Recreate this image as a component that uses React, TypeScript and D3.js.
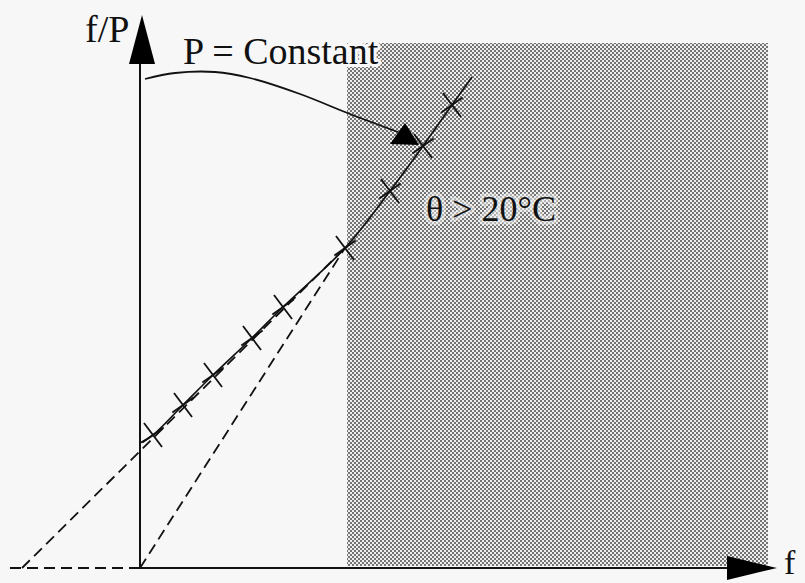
import React from "react";
import * as d3 from "d3";

// Measured points along the f/P versus f curve (arbitrary units)
const curveF = [0, 1.3, 4.3, 7.3, 11.2, 14.3, 20.5, 25.0, 28.3, 31.2, 33.2];
const curveFP = [12.5, 13.3, 16.3, 19.3, 23.0, 26.1, 32.0, 37.7, 42.2, 46.3, 49.1];
// Indices of the points that carry a cross marker
const markerIdx = [1, 2, 3, 4, 5, 6, 7, 8, 9];

// Construction lines (dashed)
const tangentF = [-11.8, 20.5];
const tangentFP = [0, 32.0];
const originF = [0, 20.5];
const originFP = [0, 32.0];
const baseF = [-13, 0];
const baseFP = [0, 0];

// Shaded region (θ > 20°C) in data units
const shadeF = [20.7, 62.8];
const shadeFP = [0.2, 52.5];

// Annotation arrow ("P = Constant") in data units
const annoPts: [number, number][] = [
  [0.5, 48.9],
  [3.5, 49.5],
  [7.5, 49.6],
  [11.0, 49.0],
  [16.0, 47.4],
  [21.0, 45.4],
  [25.8, 43.6],
];

const labels = {
  yAxis: "f/P",
  xAxis: "f",
  constant: "P = Constant",
  theta: "θ > 20°C",
};

const W = 805;
const H = 583;
const FONT = "'Liberation Serif', 'Times New Roman', serif";

export default function App() {
  const x = d3.scaleLinear().domain([0, 63]).range([140, 770]);
  const y = d3.scaleLinear().domain([0, 55]).range([568, 18]);

  const pts: [number, number][] = curveF.map((f, i) => [x(f), y(curveFP[i])]);
  const curvePath = d3.line().curve(d3.curveCatmullRom.alpha(0.5))(pts) || "";

  const seg = (fs: number[], ps: number[]) =>
    d3.line()(fs.map((f, i) => [x(f), y(ps[i])] as [number, number])) || "";

  const annoPath =
    d3.line().curve(d3.curveCatmullRom.alpha(0.5))(
      annoPts.map(([f, p]) => [x(f), y(p)] as [number, number])
    ) || "";

  // arrowhead at the end of the annotation
  const tip: [number, number] = [x(27.9), y(42.3)];
  const headPath = `M${tip[0] - 29},${tip[1] - 1} L${tip[0]},${tip[1]} L${tip[0] - 14},${tip[1] - 22} Z`;

  const ax0 = x(0);
  const ay0 = y(0);
  const yTop = y(50.4);
  const xEnd = x(63.7);

  const armA = (53 * Math.PI) / 180;
  const armB = (-35 * Math.PI) / 180;
  const halfA = 15;
  const halfB = 13;

  return (
    <svg
      width={W}
      height={H}
      viewBox={`0 0 ${W} ${H}`}
      style={{ position: "absolute", left: 0, top: 0, background: "#f7f7f7" }}
    >
      <defs>
        <pattern id="stipple" width={4} height={4} patternUnits="userSpaceOnUse">
          <rect width={4} height={4} fill="#eeeeee" />
          <circle cx={1} cy={1} r={0.95} fill="#404040" />
          <circle cx={3} cy={3} r={0.95} fill="#404040" />
        </pattern>
      </defs>

      {/* shaded region */}
      <rect
        x={x(shadeF[0])}
        y={y(shadeFP[1])}
        width={x(shadeF[1]) - x(shadeF[0])}
        height={y(shadeFP[0]) - y(shadeFP[1])}
        fill="url(#stipple)"
      />

      {/* dashed construction lines */}
      <g fill="none" stroke="#111" strokeWidth={1.8} strokeDasharray="11 6">
        <path d={seg(tangentF, tangentFP)} />
        <path d={seg(originF, originFP)} />
        <path d={seg(baseF, baseFP)} />
      </g>

      {/* axes */}
      <line x1={ax0} y1={ay0} x2={ax0} y2={yTop} stroke="#111" strokeWidth={2} />
      <path
        d={`M${ax0 + 2},${yTop - 49} L${ax0 - 11},${yTop} L${ax0 + 15},${yTop} Z`}
        fill="#000"
      />
      <line x1={ax0} y1={ay0} x2={xEnd - 40} y2={ay0} stroke="#111" strokeWidth={2} />
      <path
        d={`M${xEnd - 50},${ay0 - 12} L${xEnd},${ay0} L${xEnd - 50},${ay0 + 12} Z`}
        fill="#000"
      />

      {/* measured curve */}
      <path d={curvePath} fill="none" stroke="#111" strokeWidth={1.7} />
      <g stroke="#111" strokeWidth={1.8}>
        {markerIdx.map((i) => {
          const [px, py] = pts[i];
          return (
            <g key={i}>
              <line
                x1={px - halfA * Math.cos(armA)}
                y1={py - halfA * Math.sin(armA)}
                x2={px + halfA * Math.cos(armA)}
                y2={py + halfA * Math.sin(armA)}
              />
              <line
                x1={px - halfB * Math.cos(armB)}
                y1={py - halfB * Math.sin(armB)}
                x2={px + halfB * Math.cos(armB)}
                y2={py + halfB * Math.sin(armB)}
              />
            </g>
          );
        })}
      </g>

      {/* annotation arrow */}
      <path d={annoPath} fill="none" stroke="#111" strokeWidth={1.8} />
      <path d={headPath} fill="#000" />

      {/* labels */}
      <g fontFamily={FONT} fill="#111">
        <text x={85} y={42} fontSize={38}>
          {labels.yAxis}
        </text>
        <text
          x={183}
          y={64}
          fontSize={38}
          stroke="#f7f7f7"
          strokeWidth={6}
          paintOrder="stroke"
          strokeLinejoin="round"
        >
          {labels.constant}
        </text>
        <text
          x={426}
          y={221}
          fontSize={36}
          stroke="rgba(240,240,240,0.55)"
          strokeWidth={8}
          paintOrder="stroke"
          strokeLinejoin="round"
        >
          {labels.theta}
        </text>
        <text x={784} y={574} fontSize={34}>
          {labels.xAxis}
        </text>
      </g>
    </svg>
  );
}
